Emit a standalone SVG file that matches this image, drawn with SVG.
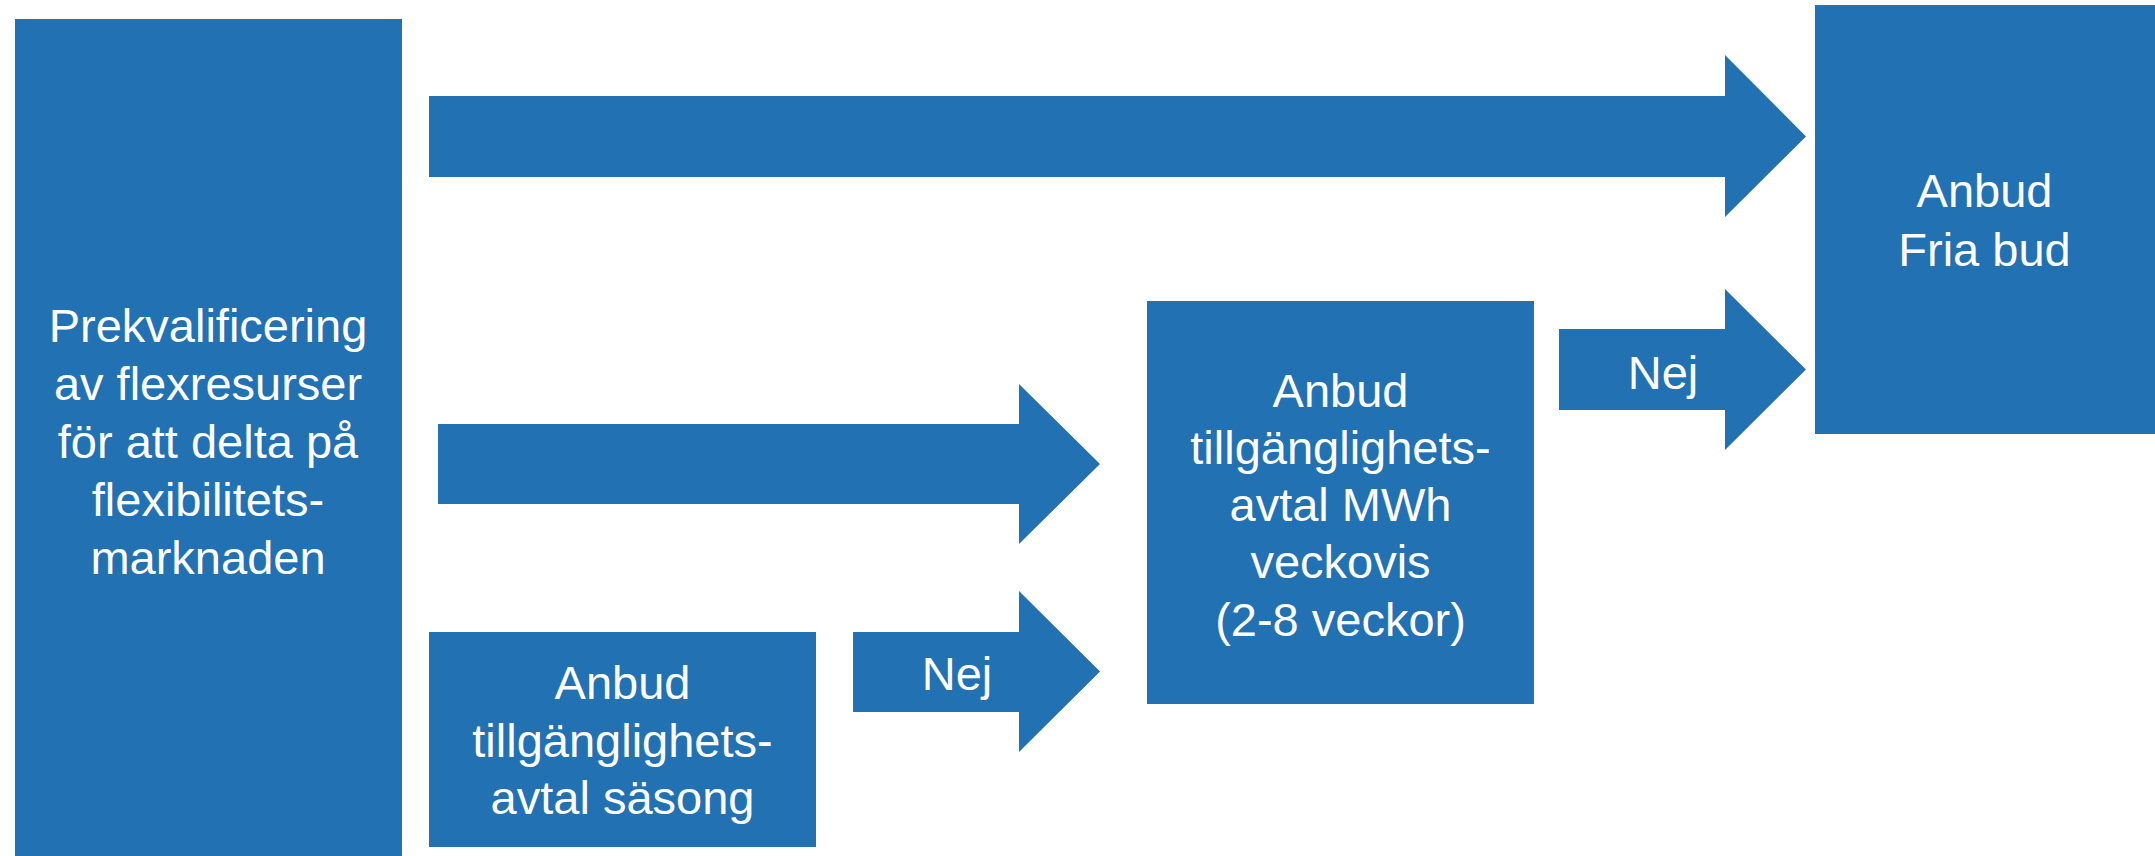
<svg xmlns="http://www.w3.org/2000/svg" width="2155" height="856" viewBox="0 0 2155 856">
<style>
.box{fill:#2271B3}
.arr{fill:#2271B3}
text{font-family:"Liberation Sans",Arial,sans-serif;font-size:47px;fill:#FFFFFF;text-anchor:middle}
</style>
<rect width="2155" height="856" fill="#FFFFFF"/>
<g id="connectors">
<polygon id="arrow-top" class="arr" points="429,96 1725,96 1725,55 1806,136.5 1725,217 1725,177 429,177"/>
<polygon id="arrow-mid" class="arr" points="438,424 1019,424 1019,384 1100,464 1019,544 1019,504 438,504"/>
<g id="arrow-nej1">
<polygon class="arr" points="853,632 1019,632 1019,591 1100,671.5 1019,752 1019,712 853,712"/>
<text x="957" y="690">Nej</text>
</g>
<g id="arrow-nej2">
<polygon class="arr" points="1559,329 1725,329 1725,289 1806,369.5 1725,450 1725,410 1559,410"/>
<text x="1663" y="389">Nej</text>
</g>
</g>
<g id="node-prekval">
<rect class="box" x="15" y="19" width="387" height="837"/>
<text x="208" y="342">Prekvalificering</text>
<text x="208" y="400">av flexresurser</text>
<text x="208" y="458">för att delta på</text>
<text x="208" y="516">flexibilitets-</text>
<text x="208" y="574">marknaden</text>
</g>
<g id="node-sasong">
<rect class="box" x="429" y="632" width="387" height="215"/>
<text x="622.5" y="699">Anbud</text>
<text x="622.5" y="757">tillgänglighets-</text>
<text x="622.5" y="814">avtal säsong</text>
</g>
<g id="node-veckovis">
<rect class="box" x="1147" y="301" width="387" height="403"/>
<text x="1340.5" y="407">Anbud</text>
<text x="1340.5" y="464">tillgänglighets-</text>
<text x="1340.5" y="521">avtal MWh</text>
<text x="1340.5" y="578">veckovis</text>
<text x="1340.5" y="636">(2-8 veckor)</text>
</g>
<g id="node-fria">
<rect class="box" x="1815" y="5" width="340" height="429"/>
<text x="1984.5" y="207">Anbud</text>
<text x="1984.5" y="266">Fria bud</text>
</g>
</svg>
